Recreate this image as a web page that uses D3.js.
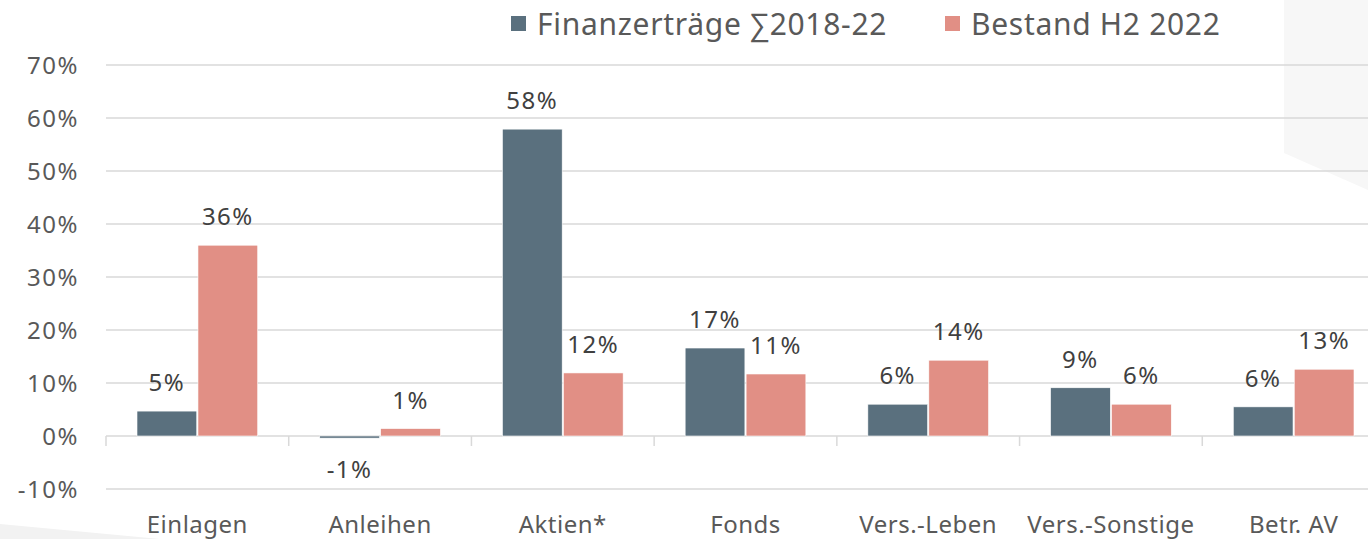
<!DOCTYPE html>
<html>
<head>
<meta charset="utf-8">
<script src="https://cdn.jsdelivr.net/npm/d3@7/dist/d3.min.js"></script>
<style>
	body { margin: 0; background: #fff; }
	svg { display: block; font-family: "Noto Sans", "Open Sans", sans-serif; }
</style>
</head>
<body>
<div id="chart"></div>
<script>
// data
var categories = ["Einlagen", "Anleihen", "Aktien*", "Fonds", "Vers.-Leben", "Vers.-Sonstige", "Betr. AV"];
var seriesNames = ["Finanzerträge ∑2018-22", "Bestand H2 2022"];
var ertraege = [4.7, -0.4, 57.9, 16.6, 6.0, 9.1, 5.5];
var bestand = [36.0, 1.4, 11.9, 11.7, 14.3, 6.0, 12.6];
var labelsErtraege = ["5%", "-1%", "58%", "17%", "6%", "9%", "6%"];
var labelsBestand = ["36%", "1%", "12%", "11%", "14%", "6%", "13%"];
var yTicks = [-10, 0, 10, 20, 30, 40, 50, 60, 70];

var colors = ["#5a707e", "#e18f85"];
var W = 1368, H = 539;

var svg = d3.select("#chart").append("svg").attr("width", W).attr("height", H);

// faint background shapes
svg.append("polygon")
	.attr("points", "1284,0 1368,0 1368,190 1284,153")
	.attr("fill", "#f7f7f7");
svg.append("polygon")
	.attr("points", "0,524 0,539 160,539")
	.attr("fill", "#f2f2f2");

var x = d3.scaleBand().domain(categories).range([106, 1385]);
var y = d3.scaleLinear().domain([-10, 70]).range([489, 65]);
var xi = d3.scaleBand().domain([0, 1]).range([31, x.bandwidth() - 31]).paddingInner(0.02);

// gridlines
svg.append("g").selectAll("line").data(yTicks).enter().append("line")
	.attr("x1", 106).attr("x2", W)
	.attr("y1", function(d) { return y(d); })
	.attr("y2", function(d) { return y(d); })
	.attr("stroke", "#d9d9d9").attr("stroke-width", 1.5);

// y tick labels
svg.append("g").selectAll("text").data(yTicks).enter().append("text")
	.attr("x", 79)
	.attr("y", function(d) { return y(d); })
	.attr("dy", "0.36em")
	.attr("text-anchor", "end")
	.attr("font-size", 24)
	.attr("letter-spacing", 1.5)
	.attr("fill", "#595959")
	.text(function(d) { return d + "%"; });

// category tick marks
var bounds = categories.map(function(c) { return x(c); });
svg.append("g").selectAll("line").data(bounds).enter().append("line")
	.attr("x1", function(d) { return d; }).attr("x2", function(d) { return d; })
	.attr("y1", y(0)).attr("y2", y(0) + 10)
	.attr("stroke", "#d9d9d9").attr("stroke-width", 1.5);

// bars
var data = [];
categories.forEach(function(c, i) {
	data.push({ cat: c, s: 0, v: ertraege[i], label: labelsErtraege[i] });
	data.push({ cat: c, s: 1, v: bestand[i], label: labelsBestand[i] });
});

svg.append("g").selectAll("rect").data(data).enter().append("rect")
	.attr("x", function(d) { return x(d.cat) + xi(d.s); })
	.attr("width", xi.bandwidth())
	.attr("y", function(d) { return y(Math.max(0, d.v)); })
	.attr("height", function(d) { return Math.abs(y(d.v) - y(0)); })
	.attr("fill", function(d) { return colors[d.s]; })
	.attr("stroke", "#ffffff").attr("stroke-width", 0.6);

// value labels
svg.append("g").selectAll("text").data(data).enter().append("text")
	.attr("x", function(d) { return x(d.cat) + xi(d.s) + xi.bandwidth() / 2; })
	.attr("y", function(d) { return d.v >= 0 ? y(d.v) - 20 : y(d.v) + 40; })
	.attr("text-anchor", "middle")
	.attr("font-size", 24)
	.attr("letter-spacing", 1.5)
	.attr("fill", "#404040")
	.text(function(d) { return d.label; });

// category labels
svg.append("g").selectAll("text").data(categories).enter().append("text")
	.attr("x", function(d) { return x(d) + x.bandwidth() / 2; })
	.attr("y", 533)
	.attr("text-anchor", "middle")
	.attr("font-size", 24)
	.attr("letter-spacing", 0.5)
	.attr("fill", "#595959")
	.text(function(d) { return d; });

// legend
var legendX = [511, 945];
var legend = svg.append("g").selectAll("g").data(seriesNames).enter().append("g")
	.attr("transform", function(d, i) { return "translate(" + legendX[i] + ",0)"; });
legend.append("rect")
	.attr("x", 0).attr("y", 16).attr("width", 15).attr("height", 15)
	.attr("fill", function(d, i) { return colors[i]; });
legend.append("text")
	.attr("x", 26).attr("y", 35)
	.attr("font-size", 30)
	.attr("letter-spacing", 0.7)
	.attr("fill", "#595959")
	.text(function(d) { return d; });
</script>
</body>
</html>
